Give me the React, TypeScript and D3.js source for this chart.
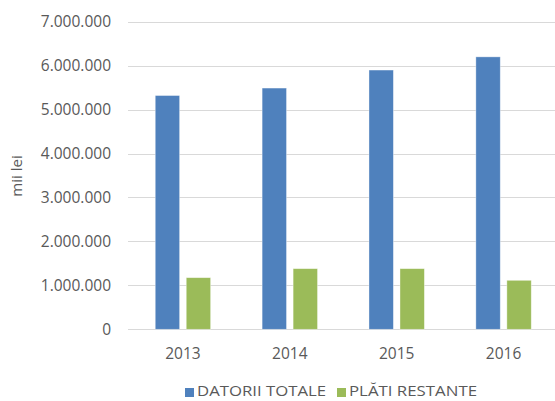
import React from "react";
import * as d3 from "d3";

const categories = ["2013", "2014", "2015", "2016"];
const seriesNames = ["DATORII TOTALE", "PLĂTI RESTANTE"];
const datoriiTotale = [5320000, 5490000, 5900000, 6200000];
const platiRestante = [1175000, 1380000, 1380000, 1115000];
const yTicks = [0, 1000000, 2000000, 3000000, 4000000, 5000000, 6000000, 7000000];
const colors = ["#4F81BD", "#9BBB59"];

const W = 555;
const H = 401;
const FONT = "'Open Sans', 'Segoe UI', sans-serif";

export default function App() {
  const x = d3.scaleBand<string>().domain(categories).range([129.5, 557]).padding(0);
  const y = d3.scaleLinear().domain([0, 7000000]).range([329.3, 21.7]);
  const inner = d3
    .scaleBand<string>()
    .domain(seriesNames)
    .range([-27.7, 27.7])
    .paddingInner(0.213)
    .paddingOuter(0);
  const fmt = (v: number) => d3.format(",")(v).replace(/,/g, ".");
  const seriesData = [datoriiTotale, platiRestante];
  const legendX = [185, 337];

  return (
    <svg
      width={W}
      height={H}
      style={{ position: "absolute", left: 0, top: 0, background: "#fff" }}
      fontFamily={FONT}
    >
      <rect width={W} height={H} fill="#fff" />
      {yTicks.map((t) => (
        <g key={t}>
          <line x1={128} x2={555} y1={Math.round(y(t)) + 0.5} y2={Math.round(y(t)) + 0.5} stroke="#d9d9d9" strokeWidth={1} />
          <text x={111} y={y(t)} dy="0.35em" textAnchor="end" fontSize={15.5} fill="#595959">
            {fmt(t)}
          </text>
        </g>
      ))}
      <text
        transform={`translate(22,176) rotate(-90)`}
        textAnchor="middle"
        fontSize={15}
        fill="#595959"
      >
        mii lei
      </text>
      {categories.map((c, i) => {
        const cx = (x(c) as number) + x.bandwidth() / 2;
        return (
          <g key={c}>
            {seriesNames.map((s, j) => {
              const v = seriesData[j][i];
              const bx = cx + (inner(s) as number);
              return (
                <rect
                  key={s}
                  x={bx}
                  y={y(v)}
                  width={inner.bandwidth()}
                  height={y(0) - y(v)}
                  fill={colors[j]}
                  stroke="#ffffff"
                  strokeOpacity={0.5}
                  strokeWidth={0.75}
                />
              );
            })}
            <text x={cx} y={354} dy="0.35em" textAnchor="middle" fontSize={15.5} fill="#595959">
              {c}
            </text>
          </g>
        );
      })}
      <g>
        {seriesNames.map((s, j) => (
          <g key={s}>
            <rect x={legendX[j]} y={388} width={9} height={9} fill={colors[j]} />
            <text
              x={legendX[j] + 12}
              y={396}
              fontSize={15}
              fill="#595959"
              textLength={j === 0 ? 129 : 128}
              lengthAdjust="spacingAndGlyphs"
            >
              {s}
            </text>
          </g>
        ))}
      </g>
    </svg>
  );
}
